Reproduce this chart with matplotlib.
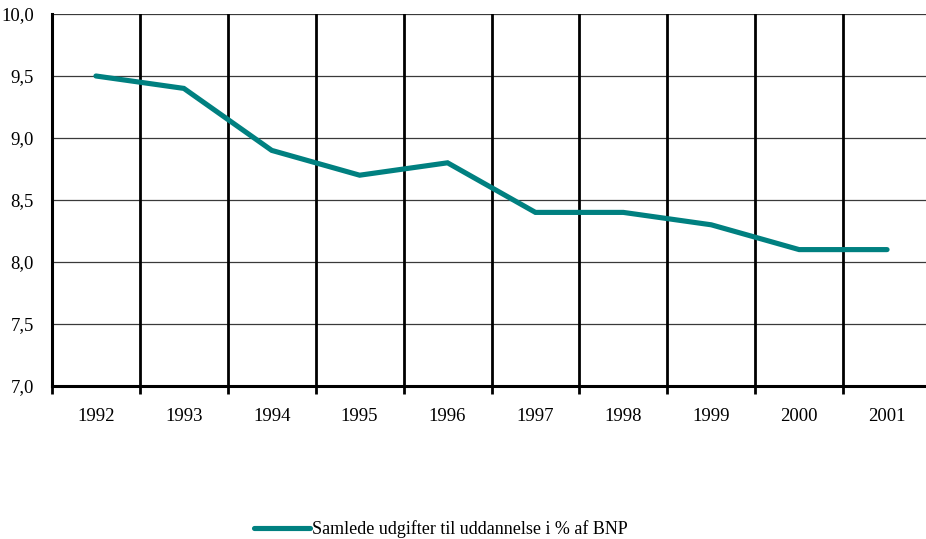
import matplotlib.pyplot as plt
import numpy as np

years = ["1992", "1993", "1994", "1995", "1996", "1997", "1998", "1999", "2000", "2001"]
values = [9.5, 9.4, 8.9, 8.7, 8.8, 8.4, 8.4, 8.3, 8.1, 8.1]
yticks = [7.0, 7.5, 8.0, 8.5, 9.0, 9.5, 10.0]

plt.rcParams['font.family'] = ['Liberation Serif', 'DejaVu Serif']

fig = plt.figure(figsize=(9.26, 5.39), dpi=100)
ax = fig.add_axes([52 / 926, (539 - 386) / 539, (931 - 52) / 926, 372 / 539])

x = np.arange(len(years))

# horizontal grid
for y in yticks[1:]:
    ax.axhline(y, color='#3a3a3a', lw=0.9, zorder=1)
# vertical separators between categories
for b in np.arange(0.5, len(years) - 0.5, 1):
    ax.axvline(b, color='black', lw=2, zorder=1)

line, = ax.plot(x, values, color='#008080', lw=3.7, solid_capstyle='round',
                solid_joinstyle='miter', zorder=3,
                label='Samlede udgifter til uddannelse i % af BNP')

ax.set_xlim(-0.5, len(years) - 0.5)
ax.set_ylim(7.0, 10.0)
ax.set_yticks(yticks)
ax.set_yticklabels([f"{v:.1f}".replace('.', ',') for v in yticks], fontsize=13.5)
ax.tick_params(axis='y', length=0, pad=13)

ax.set_xticks(np.arange(-0.5, len(years), 1), minor=False)
ax.set_xticklabels([])
ax.set_xticks(x, minor=True)
ax.set_xticklabels(years, minor=True, fontsize=13.5)
ax.tick_params(axis='x', which='major', length=6, width=2, direction='out')
ax.tick_params(axis='x', which='minor', length=0, pad=16)

for side in ['top', 'right']:
    ax.spines[side].set_visible(False)
ax.spines['left'].set_linewidth(2.2)
ax.spines['bottom'].set_linewidth(2.2)

fig.legend(handles=[line], loc='center left', bbox_to_anchor=(254 / 926, 1 - 529 / 539),
           frameon=False, fontsize=13, handlelength=3.1, handletextpad=0.1,
           borderaxespad=0, borderpad=0)

plt.savefig('out.png', dpi=100)
